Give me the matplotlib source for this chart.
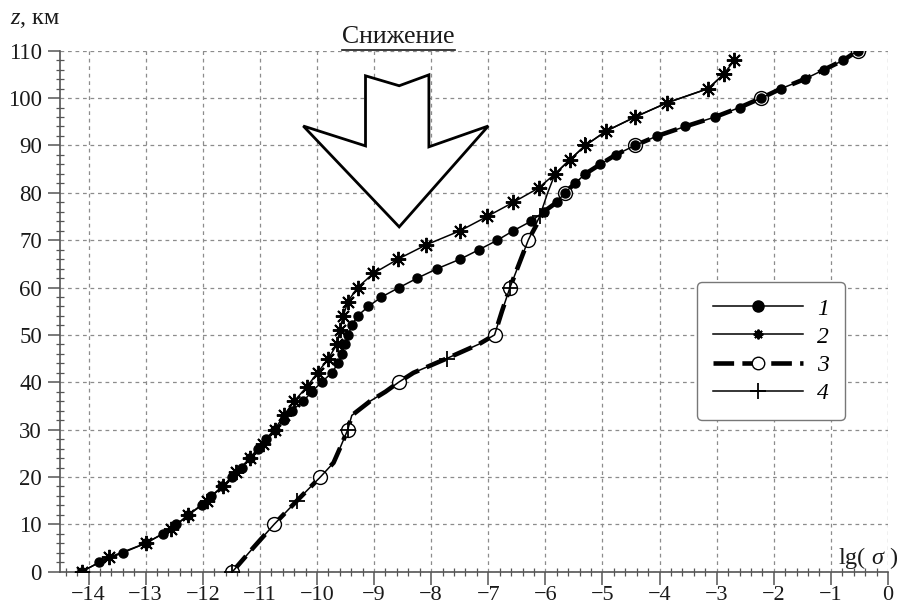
import matplotlib
matplotlib.use("Agg")
import matplotlib.pyplot as plt
from matplotlib.lines import Line2D
from matplotlib.patches import Polygon
from matplotlib.ticker import MultipleLocator

plt.rcParams['font.family'] = ['Liberation Serif', 'DejaVu Serif']
plt.rcParams['mathtext.fontset'] = 'custom'
plt.rcParams['mathtext.rm'] = 'Liberation Serif'
plt.rcParams['mathtext.it'] = 'Liberation Serif:italic'

# ---- data ----
s1_z = list(range(0, 111, 2))
s1_x = [-14.12, -13.81, -13.40, -13.00, -12.70, -12.46, -12.25, -12.02, -11.85, -11.66,
        -11.48, -11.32, -11.17, -11.04, -10.90, -10.74, -10.58, -10.44, -10.24, -10.09,
        -9.92, -9.74, -9.63, -9.56, -9.51, -9.45, -9.39, -9.29, -9.10, -8.87,
        -8.56, -8.24, -7.89, -7.49, -7.16, -6.84, -6.56, -6.25, -6.03, -5.80,
        -5.66, -5.48, -5.30, -5.04, -4.77, -4.43, -4.04, -3.55, -3.03, -2.60,
        -2.22, -1.87, -1.46, -1.12, -0.78, -0.53]

s2_z = list(range(0, 109, 3))
s2_x = [-14.12, -13.65, -13.00, -12.55, -12.25, -11.93, -11.65, -11.41, -11.17, -10.94,
        -10.74, -10.58, -10.40, -10.18, -9.99, -9.80, -9.65, -9.60, -9.54, -9.46,
        -9.29, -9.01, -8.58, -8.09, -7.49, -7.02, -6.56, -6.12, -5.83, -5.57,
        -5.30, -4.94, -4.43, -3.87, -3.15, -2.88, -2.69]

s3_z = [0, 5, 10, 15, 20, 23, 26, 30, 33, 36, 38, 40, 42, 45, 48, 50, 55, 60, 65, 70,
        76, 78, 80, 82, 84, 86, 88, 90, 92, 94, 96, 98, 100, 102, 104, 106, 108, 110]
s3_x = [-11.48, -11.12, -10.75, -10.35, -9.94, -9.71, -9.60, -9.46, -9.39, -9.07,
        -8.80, -8.57, -8.31, -7.73, -7.17, -6.89, -6.76, -6.62, -6.46, -6.30,
        -6.03, -5.80, -5.66, -5.48, -5.30, -5.04, -4.77, -4.43, -4.04, -3.55,
        -3.03, -2.60, -2.22, -1.87, -1.46, -1.12, -0.78, -0.53]

s4_z = [0, 5, 10, 15, 20, 23, 26, 30, 33, 36, 38, 40, 42, 45, 48, 50, 55, 60, 65, 70,
        75, 80, 84, 87, 90, 93, 96, 99, 102, 105]
s4_x = [-11.48, -11.12, -10.75, -10.35, -9.94, -9.71, -9.60, -9.46, -9.39, -9.07,
        -8.80, -8.57, -8.31, -7.73, -7.17, -6.89, -6.76, -6.62, -6.46, -6.30,
        -6.10, -5.96, -5.83, -5.57, -5.30, -4.94, -4.43, -3.87, -3.15, -2.88]

labels = ['1', '2', '3', '4']
x_ticks = list(range(-14, 1))
y_ticks = list(range(0, 111, 10))

fig = plt.figure(figsize=(9.01, 6.09), dpi=100)
ax = fig.add_axes([60/901, 1-571.7/609, 828/901, 521/609])
ax.set_xlim(-14.5, 0)
ax.set_ylim(0, 110)

mk3 = [i for i, z in enumerate(s3_z) if z % 10 == 0]
mk4 = [i for i, z in enumerate(s4_z) if z % 15 == 0]

l3, = ax.plot(s3_x, s3_z, color='black', lw=3.3, ls=(0, (4.5, 1.8)),
              marker='o', ms=10, mfc='white', mec='black', mew=1.0,
              markevery=mk3, zorder=3, label=labels[2], dash_capstyle='butt')
l4, = ax.plot(s4_x, s4_z, color='black', lw=1.1, marker='+', ms=12, mew=1.3,
              markevery=mk4, zorder=4, label=labels[3])
l2, = ax.plot(s2_x, s2_z, color='black', lw=1.1, marker=(8, 2, 0), ms=11, mew=1.4,
              zorder=5, label=labels[1])
l1, = ax.plot(s1_x, s1_z, color='black', lw=1.1, marker='o', ms=6.5,
              mfc='black', mec='black', zorder=6, label=labels[0])

# axes styling
ax.xaxis.set_minor_locator(MultipleLocator(0.2))
ax.yaxis.set_minor_locator(MultipleLocator(2))
ax.set_xticks(x_ticks)
ax.set_yticks(y_ticks)
ax.set_xticklabels([str(t).replace('-', '\u2212') for t in x_ticks])
ax.grid(True, which='major', color='#8c8c8c', lw=0.9, ls=(0, (3, 3)))
for s in ['top', 'right']:
    ax.spines[s].set_visible(False)
for s in ['left', 'bottom']:
    ax.spines[s].set_color('#555555')
    ax.spines[s].set_linewidth(1.2)
ax.tick_params(which='major', direction='out', length=9, width=1.1,
               color='#555555', labelsize=16.5, labelcolor='#1a1a1a')
ax.tick_params(which='minor', direction='inout', length=6, width=0.9, color='#555555')
ax.tick_params(axis='y', which='major', pad=4)
ax.tick_params(axis='x', which='major', pad=1, labelsize=16)

# arrow ("Снижение")
arrow = [(-10.24, 94.1), (-9.15, 89.9), (-9.15, 104.7), (-8.56, 102.6), (-8.04, 104.9),
         (-8.04, 89.7), (-7.00, 94.1), (-8.56, 72.8)]
ax.add_patch(Polygon(arrow, closed=True, facecolor='white', edgecolor='black',
                     lw=2.0, zorder=2, joinstyle='miter'))

fig.text(398/901, 1-37/609, 'Снижение', ha='center', va='center', fontsize=18.5, color='#1a1a1a')
fig.add_artist(Line2D([342/901, 455/901], [1-50/609, 1-50/609], color='#1a1a1a', lw=1.2))

fig.text(10/901, 1-20/609, '$z$, км', ha='left', va='center', fontsize=17.5, color='#1a1a1a')
fig.text(838/901, 1-558/609, 'lg( $\\sigma$ )', ha='left', va='center', fontsize=17.5, color='#1a1a1a')

# legend
leg = ax.legend(handles=[l1, l2, l3, l4], loc='upper left',
                bbox_to_anchor=((697 - 60)/828, (571.7 - 282)/521),
                handlelength=3.8, numpoints=1, frameon=True,
                fancybox=True, edgecolor='#777777', framealpha=1.0,
                borderpad=0.68, labelspacing=0.28, handletextpad=0.6,
                borderaxespad=0.0, prop={'family': 'Liberation Serif', 'style': 'italic', 'size': 17})
leg.get_frame().set_linewidth(1.0)
leg.set_zorder(10)
hs = leg.legend_handles
hs[0].set_markersize(8)
hs[1].set_markersize(7)
hs[2].set_markersize(9)

fig.savefig('out.png', dpi=100)
